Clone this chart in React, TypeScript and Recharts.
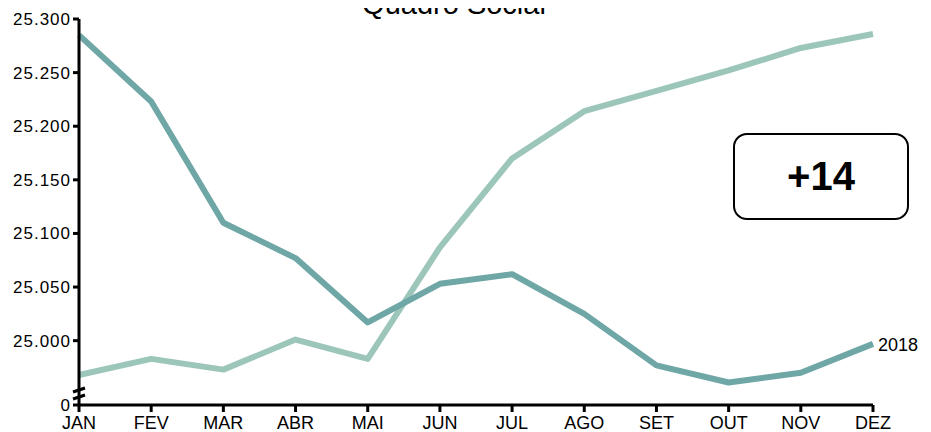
import React from 'react';
import {Line, LineChart, XAxis, YAxis} from 'recharts';

const months = ['JAN', 'FEV', 'MAR', 'ABR', 'MAI', 'JUN', 'JUL', 'AGO', 'SET', 'OUT', 'NOV', 'DEZ'];
const socios2018 = [25285, 25223, 25110, 25077, 25017, 25053, 25062, 25025, 24977, 24961, 24970, 24997];
const socios2019 = [24968, 24983, 24973, 25001, 24983, 25087, 25170, 25214, 25233, 25252, 25273, 25286];

// bottom of the broken axis, shown as "0"
const AXIS_BREAK = 24940;
const yTicks = [AXIS_BREAK, 25000, 25050, 25100, 25150, 25200, 25250, 25300];
const saldo = '+14';

const data = months.map((m, i) => ({month: m, a2018: socios2018[i], a2019: socios2019[i]}));

const fmt = (v: number) => v === AXIS_BREAK ? '0' : v.toString().replace(/\B(?=(\d{3})+(?!\d))/g, '.');

const YTick = ({x, y, payload}: any) => {
    const ax = x + 8;
    return (
        <g>
            <text x={x} y={y} dy={6} textAnchor="end" fill="#000"
                  style={{fontFamily: '"Liberation Sans", Arial, sans-serif', fontSize: 17, letterSpacing: 1}}>
                {fmt(payload.value)}
            </text>
            {payload.value === AXIS_BREAK &&
                <g stroke="#000" strokeWidth={3}>
                    <line x1={ax - 6} y1={y - 13} x2={ax + 6} y2={y - 17}/>
                    <line x1={ax - 6} y1={y - 6} x2={ax + 6} y2={y - 10}/>
                </g>}
        </g>
    );
};

const XTick = ({x, y, payload}: any) => (
    <text x={x} y={y} dy={17} textAnchor="middle" fill="#000"
          style={{fontFamily: '"Liberation Sans Narrow", "Liberation Sans", sans-serif', fontSize: 18}}>
        {payload.value}
    </text>
);

const EndLabel = ({x, y, index}: any) => index === months.length - 1
    ? <text x={x + 5} y={y} dy={7} fill="#000"
            style={{fontFamily: '"Liberation Sans", Arial, sans-serif', fontSize: 18}}>2018</text>
    : null;

export default function App() {
    return (
        <div style={{position: 'relative', width: 931, height: 432, margin: '-8px -8px 0 -8px', background: '#fff'}}>
            <div style={{
                position: 'absolute', left: 0, width: 908, top: -10, textAlign: 'center',
                fontFamily: '"Liberation Sans", Arial, sans-serif', fontSize: 29, lineHeight: '29px'
            }}>Quadro Social
            </div>
            <LineChart width={931} height={432} data={data} margin={{top: 19, right: 58, bottom: 0, left: 0}}>
                <XAxis dataKey="month" height={27} tick={<XTick/>} tickSize={7} tickMargin={0}
                       axisLine={{stroke: '#000', strokeWidth: 3}} tickLine={{stroke: '#000', strokeWidth: 3}}/>
                <YAxis width={79} domain={[AXIS_BREAK, 25300]} ticks={yTicks} tick={<YTick/>}
                       tickSize={6} tickMargin={2} interval={0}
                       axisLine={{stroke: '#000', strokeWidth: 3}} tickLine={{stroke: '#000', strokeWidth: 3}}/>
                <Line dataKey="a2019" stroke="#9dc6bb" strokeWidth={6} dot={false}
                      strokeLinejoin="round" isAnimationActive={false}/>
                <Line dataKey="a2018" stroke="#6fa6a6" strokeWidth={6} dot={false}
                      strokeLinejoin="round" isAnimationActive={false} label={<EndLabel/>}/>
            </LineChart>
            <div style={{
                position: 'absolute', left: 733, top: 133, width: 172, height: 83,
                border: '2px solid #000', borderRadius: 14, display: 'flex',
                alignItems: 'center', justifyContent: 'center',
                fontFamily: '"Liberation Sans", Arial, sans-serif', fontWeight: 'bold', fontSize: 40
            }}>{saldo}</div>
        </div>
    );
}
